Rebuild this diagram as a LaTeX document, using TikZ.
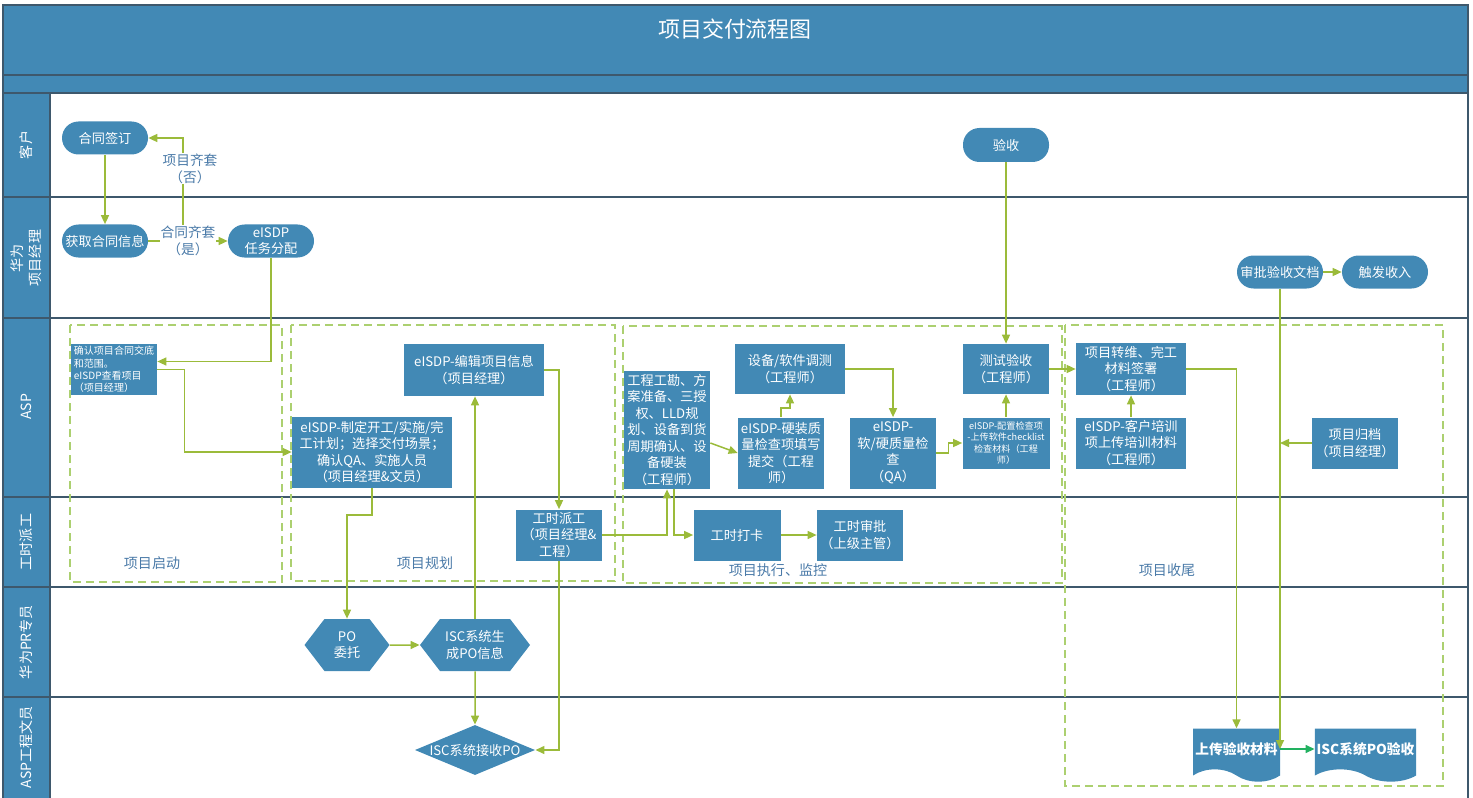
\documentclass[tikz,border=0pt]{standalone}
\usepackage{fontspec}
\setmainfont{Noto Sans CJK SC}
\usepackage{tikz}
\usetikzlibrary{arrows.meta,calc,shapes.geometric,shapes.symbols}
\definecolor{lanebl}{RGB}{66,137,181}
\definecolor{laneln}{RGB}{62,88,108}
\definecolor{flowgr}{RGB}{155,187,58}
\definecolor{phasegr}{RGB}{172,208,112}
\definecolor{labbl}{RGB}{74,122,168}
\definecolor{okgr}{RGB}{34,177,96}

\begin{document}
\begin{tikzpicture}[x=0.2mm, y=-0.2mm,
box/.style={rectangle, fill=lanebl, text=white, align=center, inner sep=1pt, font=\fontsize{7.5}{9.4}\selectfont},
pill/.style={box, rounded corners=3.3mm, minimum width=17.2mm, minimum height=6.6mm},
hexa/.style={box, signal, signal to=west and east, signal pointer angle=105, minimum height=10.4mm},
dia/.style={box, diamond, aspect=2.4, inner sep=0pt},
docu/.style={box, tape, tape bend top=none, tape bend bottom=out and in, tape bend height=7pt, minimum height=10.6mm, font=\bfseries\fontsize{7.8}{9.4}\selectfont},
flow/.style={draw=flowgr, line width=0.3mm, -{Triangle[length=1.8mm,width=1.6mm]}},
flowok/.style={flow, draw=okgr, -{Triangle[length=1.8mm,width=1.6mm,fill=okgr]}},
flowlab/.style={fill=white, text=labbl, align=center, inner sep=0.5pt, font=\fontsize{7.8}{9.4}\selectfont},
phase/.style={draw=phasegr, line width=0.3mm, dash pattern=on 1.6mm off 1mm},
phlabel/.style={text=labbl, font=\fontsize{8}{10}\selectfont},
lanelabel/.style={rotate=90, text=white, align=center, font=\fontsize{8}{10}\selectfont},
laneline/.style={draw=laneln, line width=0.3mm}
    ]
\useasboundingbox (0,0) rectangle (1473,798);

% lanes
\fill[lanebl] (3,5) rectangle (1468,93);
\fill[lanebl] (3,93) rectangle (50,800);
\foreach \y in {75,93,197,318,497,587,697}
  \draw[laneline] (3,\y) -- (1468,\y);
\draw[laneline] (3,5) rectangle (1468,800);
\draw[laneline] (50,93) -- (50,800);
\node[text=white, font=\fontsize{12.5}{15}\selectfont] (title) at (735,29) {项目交付流程图};
\foreach \y/\t in {145/客户, 258/华为\\项目经理, 407/ASP, 542/工时派工, 642/华为PR专员, 747/ASP工程文员}
  \node[lanelabel] (lane\y) at (26,\y) {\t};

% phases
\draw[phase] (70,325) rectangle (282,582);
\draw[phase] (291,325) rectangle (615,581);
\draw[phase] (623,326) rectangle (1062,583);
\draw[phase] (1065,325) rectangle (1443,786);
\node[phlabel] (ph1) at (152,563) {项目启动};
\node[phlabel] (ph2) at (425,563) {项目规划};
\node[phlabel] (ph3) at (778,570) {项目执行、监控};
\node[phlabel] (ph4) at (1167,570) {项目收尾};

\node[pill] (ht) at (105,138) {合同签订};
\node[pill, minimum height=6.8mm] (ys) at (1006,145) {验收};
\node[pill] (hq) at (105,241) {获取合同信息};
\node[pill] (rw) at (271,241) {eISDP\\任务分配};
\node[pill] (sp) at (1280,272) {审批验收文档};
\node[pill] (cf) at (1385,272) {触发收入};

\node[box, align=left, font=\fontsize{5.7}{7.1}\selectfont, minimum width=17.2mm, minimum height=10.2mm] (qr) at (114,369.5) {确认项目合同交底\\和范围。\\eISDP查看项目\\（项目经理）};
\node[box, minimum width=32mm, minimum height=14.2mm] (zd) at (372,452) {eISDP-制定开工/实施/完\\工计划；选择交付场景；\\确认QA、实施人员\\（项目经理\&文员）};
\node[box, minimum width=28mm, minimum height=10.4mm] (bj) at (474,370) {eISDP-编辑项目信息\\（项目经理）};
\node[box, minimum width=17.2mm, minimum height=10.2mm] (pg) at (559,535) {工时派工\\（项目经理\&\\工程）};
\node[box, minimum width=17.2mm, minimum height=23.6mm] (gk) at (667,430) {工程工勘、方\\案准备、三授\\权、LLD规\\划、设备到货\\周期确认、设\\备硬装\\（工程师）};
\node[box, minimum width=17.4mm, minimum height=10.2mm] (dk) at (737,535) {工时打卡};
\node[box, minimum width=17.2mm, minimum height=10.2mm] (sh) at (860,535) {工时审批\\（上级主管）};
\node[box, minimum width=17.2mm, minimum height=14.2mm] (yz) at (781,453) {eISDP-硬装质\\量检查项填写\\提交（工程\\师）};
\node[box, minimum width=22mm, minimum height=10mm] (ts) at (790,369) {设备/软件调测\\（工程师）};
\node[box, minimum width=17.2mm, minimum height=14.2mm] (jc) at (893,453) {eISDP-\\软/硬质量检\\查\\（QA）};
\node[box, font=\fontsize{5.2}{6.6}\selectfont, minimum width=17.4mm, minimum height=10.2mm] (pz) at (1006,443) {eISDP-配置检查项\\-上传软件checklist\\检查材料（工程\\师）};
\node[box, minimum width=17.2mm, minimum height=10mm] (cs) at (1006,369) {测试验收\\（工程师）};
\node[box, minimum width=22mm, minimum height=10.4mm] (zw) at (1131,369) {项目转维、完工\\材料签署\\（工程师）};
\node[box, minimum width=22mm, minimum height=10.2mm] (px) at (1131,443) {eISDP-客户培训\\项上传培训材料\\（工程师）};
\node[box, minimum width=17.2mm, minimum height=10.2mm] (gd) at (1355,443) {项目归档\\（项目经理）};

\node[hexa, minimum width=17mm] (po) at (347,645) {PO\\委托};
\node[hexa, minimum width=22mm] (sc) at (475,645) {ISC系统生\\成PO信息};
\node[dia] (js) at (475,750) {ISC系统接收PO};
\node[docu, minimum width=17.4mm] (up) at (1236.5,749) {上传验收材料};
\node[docu, minimum width=20.2mm] (ia) at (1365.5,749) {ISC系统PO验收};

\coordinate (dec) at (183,241);
\draw[flow] (dec) |- node[flowlab, pos=0.35, xshift=1.4mm] {项目齐套\\（否）} (ht.east);
\draw[flow] (ht) -- (hq);
\draw[flow] (hq) -- node[flowlab] {合同齐套\\（是）} (rw);
\draw[flow] (rw.south) |- ($(qr.east)+(0,-8)$);
\draw[flow] (qr.east) -- ++(27,0) |- (zd.west);
\draw[flow] (zd.south) -- ++(0,27) -| (po.north);
\draw[flow] (po) -- (sc);
\draw[flow] (sc.north) -- (sc.north |- bj.south);
\draw[flow] (sc) -- (js);
\draw[flow] (bj.east) -| (pg.north);
\draw[flow] (pg.south) |- (js.east);
\draw[flow] (pg.east) -| (gk.south);
\draw[flow] ($(gk.south)+(7,0)$) |- (dk.west);
\draw[flow] (dk) -- (sh);
\draw[flow] ($(gk.east)+(0,13)$) -- (yz.west);
\draw[flow] (yz.north) -- ++(0,-9) -| (ts.south);
\draw[flow] (ts.east) -| (jc.north);
\draw[flow] (jc.east) -- ++(12,0) |- (pz.west);
\draw[flow] (pz) -- (cs);
\draw[flow] (ys) -- (cs);
\draw[flow] (cs) -- (zw);
\draw[flow] (px) -- (zw);
\draw[flow] (zw.east) -| (up.north);
\draw[flow] (sp) -- (cf);
\draw[flow] (sp.south) -- (sp.south |- up.east);
\draw[flow] (gd.west) -- (gd.west -| sp.south);
\draw[flowok] (up.east) -- (ia.west);
\end{tikzpicture}
\end{document}
